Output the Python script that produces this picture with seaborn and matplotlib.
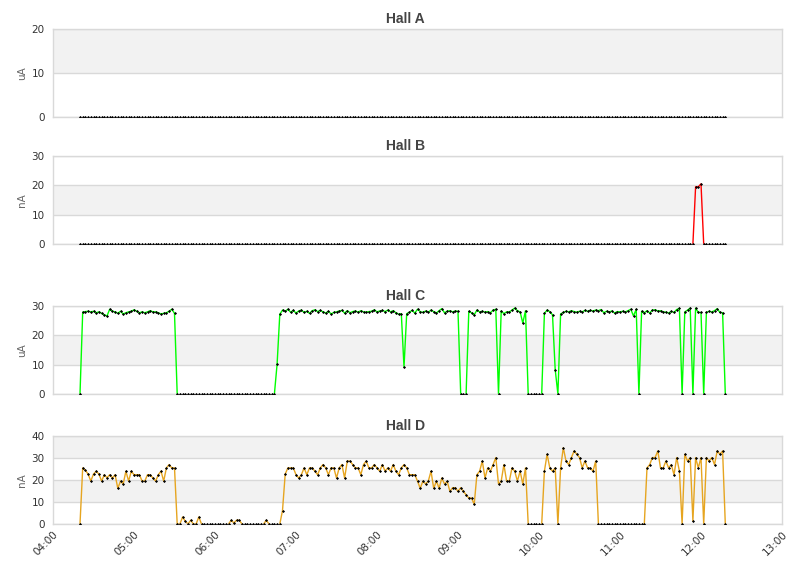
import numpy as np
import pandas as pd
import matplotlib
matplotlib.use('Agg')
import matplotlib.pyplot as plt
import matplotlib.dates as mdates
import seaborn as sns

# ========= DADOS (amostras a cada 2 min, 04:20 -> 12:18) =========
START = '2020-01-01 04:20'
STEP = '2min'
X_MIN = '2020-01-01 04:00'
X_MAX = '2020-01-01 13:00'

hall_a = [
    0, 0, 0, 0, 0, 0, 0, 0, 0, 0,  0, 0, 0, 0, 0, 0, 0, 0, 0, 0,
    0, 0, 0, 0, 0, 0, 0, 0, 0, 0,  0, 0, 0, 0, 0, 0, 0, 0, 0, 0,
    0, 0, 0, 0, 0, 0, 0, 0, 0, 0,  0, 0, 0, 0, 0, 0, 0, 0, 0, 0,
    0, 0, 0, 0, 0, 0, 0, 0, 0, 0,  0, 0, 0, 0, 0, 0, 0, 0, 0, 0,
    0, 0, 0, 0, 0, 0, 0, 0, 0, 0,  0, 0, 0, 0, 0, 0, 0, 0, 0, 0,
    0, 0, 0, 0, 0, 0, 0, 0, 0, 0,  0, 0, 0, 0, 0, 0, 0, 0, 0, 0,
    0, 0, 0, 0, 0, 0, 0, 0, 0, 0,  0, 0, 0, 0, 0, 0, 0, 0, 0, 0,
    0, 0, 0, 0, 0, 0, 0, 0, 0, 0,  0, 0, 0, 0, 0, 0, 0, 0, 0, 0,
    0, 0, 0, 0, 0, 0, 0, 0, 0, 0,  0, 0, 0, 0, 0, 0, 0, 0, 0, 0,
    0, 0, 0, 0, 0, 0, 0, 0, 0, 0,  0, 0, 0, 0, 0, 0, 0, 0, 0, 0,
    0, 0, 0, 0, 0, 0, 0, 0, 0, 0,  0, 0, 0, 0, 0, 0, 0, 0, 0, 0,
    0, 0, 0, 0, 0, 0, 0, 0, 0, 0,  0, 0, 0, 0, 0, 0, 0, 0, 0, 0,
]

hall_b = [
    0, 0, 0, 0, 0, 0, 0, 0, 0, 0,  0, 0, 0, 0, 0, 0, 0, 0, 0, 0,
    0, 0, 0, 0, 0, 0, 0, 0, 0, 0,  0, 0, 0, 0, 0, 0, 0, 0, 0, 0,
    0, 0, 0, 0, 0, 0, 0, 0, 0, 0,  0, 0, 0, 0, 0, 0, 0, 0, 0, 0,
    0, 0, 0, 0, 0, 0, 0, 0, 0, 0,  0, 0, 0, 0, 0, 0, 0, 0, 0, 0,
    0, 0, 0, 0, 0, 0, 0, 0, 0, 0,  0, 0, 0, 0, 0, 0, 0, 0, 0, 0,
    0, 0, 0, 0, 0, 0, 0, 0, 0, 0,  0, 0, 0, 0, 0, 0, 0, 0, 0, 0,
    0, 0, 0, 0, 0, 0, 0, 0, 0, 0,  0, 0, 0, 0, 0, 0, 0, 0, 0, 0,
    0, 0, 0, 0, 0, 0, 0, 0, 0, 0,  0, 0, 0, 0, 0, 0, 0, 0, 0, 0,
    0, 0, 0, 0, 0, 0, 0, 0, 0, 0,  0, 0, 0, 0, 0, 0, 0, 0, 0, 0,
    0, 0, 0, 0, 0, 0, 0, 0, 0, 0,  0, 0, 0, 0, 0, 0, 0, 0, 0, 0,
    0, 0, 0, 0, 0, 0, 0, 0, 0, 0,  0, 0, 0, 0, 0, 0, 0, 0, 0, 0,
    0, 0, 0, 0, 0, 0, 0, 0, 19.5, 19.5,  20.5, 0, 0, 0, 0, 0, 0, 0, 0, 0,
]

hall_c = [
    0, 27.9, 28.1, 28.2, 28.0, 28.2, 27.7, 28.0, 27.5, 27.0,
    26.6, 28.9, 28.2, 28.0, 27.5, 28.2, 27.3, 27.7, 28.0, 28.2,
    28.7, 28.2, 27.7, 28.0, 27.7, 28.0, 28.4, 28.0, 28.0, 27.7,
    27.3, 27.5, 27.7, 28.2, 28.9, 27.5, 0, 0, 0, 0,
    0, 0, 0, 0, 0, 0, 0, 0, 0, 0,
    0, 0, 0, 0, 0, 0, 0, 0, 0, 0,
    0, 0, 0, 0, 0, 0, 0, 0, 0, 0,
    0, 0, 0, 10.2, 27.2, 28.6, 28.2, 28.9, 27.9, 28.5,
    27.6, 28.3, 28.6, 27.8, 28.2, 27.5, 28.4, 28.7, 28.1, 28.5,
    28.0, 27.6, 28.2, 27.3, 27.8, 28.0, 28.3, 28.5, 27.6, 28.4,
    27.7, 28.1, 28.3, 27.9, 28.4, 28.0, 27.9, 28.1, 28.2, 28.7,
    28.0, 28.3, 28.5, 28.1, 28.6, 28.0, 28.4, 27.7, 27.2, 27.4,
    9.2, 27.4, 27.9, 28.5, 27.6, 28.9, 28.1, 27.8, 28.3, 27.9,
    28.6, 28.1, 27.6, 28.4, 29.1, 27.7, 28.2, 28.4, 28.0, 28.3,
    28.2, 0, 0, 0, 28.2, 27.7, 27.0, 28.6, 28.0, 28.2,
    27.9, 28.1, 27.7, 28.6, 28.9, 0, 28.3, 27.4, 28.0, 28.0,
    28.6, 29.3, 28.4, 28.0, 24.2, 28.4, 0, 0, 0, 0,
    0, 0, 27.5, 28.6, 28.1, 27.0, 8.3, 0, 27.3, 27.8,
    28.2, 28.0, 28.4, 28.1, 27.9, 28.2, 28.0, 28.5, 28.2, 28.5,
    28.3, 28.6, 28.4, 28.8, 27.7, 28.2, 28.0, 28.3, 27.6, 28.1,
    28.0, 28.2, 28.0, 28.4, 28.9, 26.6, 28.9, 0, 28.2, 27.7,
    28.4, 27.6, 28.6, 28.7, 28.3, 28.4, 28.0, 27.9, 27.6, 28.2,
    27.8, 28.8, 29.2, 0, 28.0, 28.6, 29.3, 0, 29.3, 27.8,
    27.8, 0, 27.8, 28.2, 28.0, 28.4, 29.1, 27.8, 27.7, 0,
]

hall_d = [
    0, 25.5, 24.4, 22.7, 19.5, 22.7, 24.0, 22.7, 19.5, 22.4,
    21.0, 22.4, 20.9, 22.4, 16.2, 19.5, 18.2, 24.0, 19.5, 24.0,
    22.4, 22.4, 22.4, 19.5, 19.5, 22.4, 22.4, 20.9, 19.5, 22.4,
    24.0, 19.5, 25.5, 27.0, 25.5, 25.5, 0, 0, 3.2, 1.2,
    0, 1.7, 0, 0, 3.2, 0, 0, 0, 0, 0,
    0, 0, 0, 0, 0, 0, 1.7, 0.5, 1.7, 1.7,
    0, 0, 0, 0, 0, 0, 0, 0, 0, 1.7,
    0, 0, 0, 0, 0, 6.1, 22.7, 25.5, 25.5, 25.5,
    22.4, 20.9, 22.4, 25.5, 22.4, 25.5, 25.5, 24.0, 22.4, 25.5,
    27.0, 25.5, 22.4, 25.5, 25.5, 20.9, 25.5, 27.0, 20.9, 28.6,
    28.6, 27.0, 25.5, 25.5, 22.4, 27.0, 28.6, 25.5, 25.5, 27.0,
    25.5, 24.0, 27.0, 24.0, 25.5, 24.0, 27.0, 24.0, 22.4, 25.5,
    27.0, 25.5, 22.4, 22.4, 22.4, 19.5, 16.2, 19.5, 18.2, 19.5,
    24.0, 16.2, 19.5, 16.2, 20.9, 18.2, 19.4, 14.8, 16.5, 16.5,
    14.8, 16.5, 14.8, 13.3, 11.8, 11.8, 8.9, 22.4, 24.0, 28.6,
    20.9, 25.5, 24.0, 27.0, 30.2, 18.2, 19.5, 27.0, 19.5, 19.5,
    25.5, 24.0, 19.5, 24.0, 18.2, 25.5, 0, 0, 0, 0,
    0, 0, 24.0, 31.7, 25.5, 24.0, 25.5, 0, 25.5, 34.7,
    28.6, 27.0, 30.2, 33.2, 31.7, 30.2, 25.5, 28.6, 25.5, 25.5,
    24.0, 28.6, 0, 0, 0, 0, 0, 0, 0, 0,
    0, 0, 0, 0, 0, 0, 0, 0, 0, 0,
    25.5, 27.0, 30.2, 30.2, 33.2, 25.5, 25.5, 28.6, 25.5, 27.0,
    22.4, 30.2, 24.0, 0, 31.7, 28.6, 30.2, 1.4, 30.2, 25.5,
    30.2, 0, 30.2, 28.6, 30.2, 27.0, 33.2, 31.7, 33.2, 0,
]

halls = ['Hall A', 'Hall B', 'Hall C', 'Hall D']
units = ['uA', 'nA', 'uA', 'nA']
y_max = [20, 30, 30, 40]
colors = ['#ff0000', '#ff0000', '#00ff00', '#e6a520']

# ========= LAYOUT (pixels da figura 811x578) =========
W, H = 811, 578
AX_LEFT, AX_RIGHT = 53, 782
AX_BOTTOMS = [117, 244, 394, 524]
AX_HEIGHT = 88

sns.set_style('white')
plt.rcParams['font.family'] = ['DejaVu Sans']

times = pd.date_range(START, periods=len(hall_d), freq=STEP)
fig = plt.figure(figsize=(W / 100, H / 100), dpi=100)


def draw_hall(ax, values, title, unit, ymax, color, show_x):
    df = pd.DataFrame({'time': times, 'value': values})
    v = df['value'].to_numpy()
    nz = v != 0
    # linha so onde ha sinal (segmentos entre zeros nao sao desenhados)
    keep = nz | np.r_[False, nz[:-1]] | np.r_[nz[1:], False]
    line_df = df[keep].copy()
    line_df['seg'] = np.cumsum(~keep)[keep]

    for lo in range(10, ymax, 20):
        ax.axhspan(lo, lo + 10, color='#f2f2f2', zorder=0, lw=0)

    if len(line_df):
        sns.lineplot(data=line_df, x='time', y='value', units='seg',
                     estimator=None, color=color, linewidth=1.0, ax=ax,
                     legend=False, zorder=2)
    sns.scatterplot(data=df, x='time', y='value', color='black', marker='D',
                    s=2.5, linewidth=0, ax=ax, legend=False, zorder=3)

    ax.set_xlim(pd.Timestamp(X_MIN), pd.Timestamp(X_MAX))
    ax.set_ylim(0, ymax)
    ax.set_yticks(range(0, ymax + 1, 10))
    ax.set_axisbelow(True)
    ax.yaxis.grid(True, color='#d9d9d9', linewidth=1)
    ax.xaxis.grid(False)
    for s in ax.spines.values():
        s.set_color('#d9d9d9')
        s.set_linewidth(1)
    ax.tick_params(axis='y', length=0, labelsize=7.5, labelcolor='#333333', pad=6)
    ax.tick_params(axis='x', length=0, labelsize=7.5, labelcolor='#333333', pad=4)
    ax.xaxis.set_major_locator(mdates.HourLocator())
    ax.xaxis.set_major_formatter(mdates.DateFormatter('%H:%M'))
    if show_x:
        plt.setp(ax.get_xticklabels(), rotation=45, ha='right', rotation_mode='anchor')
    else:
        ax.set_xticklabels([])
    ax.set_xlabel('')
    ax.set_ylabel(unit, fontsize=7.5, color='#666666', labelpad=3)
    title_x = (W / 2 - AX_LEFT) / (AX_RIGHT - AX_LEFT)
    ax.set_title(title, x=title_x, fontsize=10, fontweight='bold', color='#444444',
                 family=['Liberation Sans', 'DejaVu Sans'], pad=4)


for i, name in enumerate(halls):
    rect = [AX_LEFT / W, 1 - AX_BOTTOMS[i] / H,
            (AX_RIGHT - AX_LEFT) / W, AX_HEIGHT / H]
    ax = fig.add_axes(rect)
    vals = [hall_a, hall_b, hall_c, hall_d][i]
    draw_hall(ax, vals, name, units[i], y_max[i], colors[i], show_x=(i == 3))

fig.savefig('out.png', dpi=100)
